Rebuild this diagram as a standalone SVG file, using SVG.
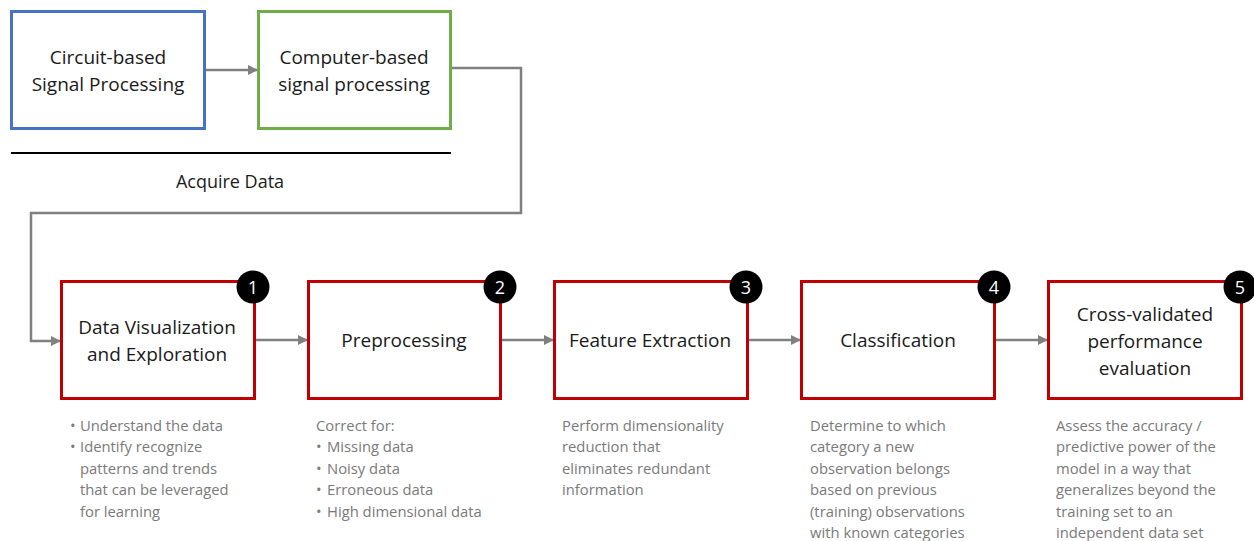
<svg xmlns="http://www.w3.org/2000/svg" width="1254" height="541" viewBox="0 0 1254 541">
  <defs>
    <marker id="arrow" viewBox="0 0 10 10" refX="9" refY="5" markerWidth="4" markerHeight="4" orient="auto" markerUnits="strokeWidth">
      <path d="M0,0 L10,5 L0,10 z" fill="#808080"/>
    </marker>
    <style>
      .box { fill: #ffffff; stroke-width: 3; }
      .blue { stroke: #4472c4; }
      .green { stroke: #70ad47; }
      .red { stroke: #c00000; }
      .title { font-family: "Open Sans", "Liberation Sans", sans-serif; font-size: 19px; fill: #1a1a1a; text-anchor: middle; }
      .desc { font-family: "Open Sans", "Liberation Sans", sans-serif; font-size: 14.8px; fill: #7a7a7a; }
      .badge { fill: #000000; }
      .num { font-family: "Open Sans", "Liberation Sans", sans-serif; font-size: 18px; fill: #ffffff; text-anchor: middle; }
      .conn { fill: none; stroke: #808080; stroke-width: 2.5; }
    </style>
  </defs>
  <rect width="1254" height="541" fill="#ffffff"/>

  <!-- connectors -->
  <g id="connectors">
    <line class="conn" x1="205" y1="70" x2="257" y2="70" marker-end="url(#arrow)"/>
    <polyline class="conn" points="451,68 521,68 521,213 31,213 31,341 60,341" marker-end="url(#arrow)"/>
    <line class="conn" x1="254" y1="340" x2="307" y2="340" marker-end="url(#arrow)"/>
    <line class="conn" x1="500" y1="340" x2="553" y2="340" marker-end="url(#arrow)"/>
    <line class="conn" x1="747" y1="340" x2="800" y2="340" marker-end="url(#arrow)"/>
    <line class="conn" x1="994" y1="340" x2="1047" y2="340" marker-end="url(#arrow)"/>
  </g>

  <!-- acquisition stage -->
  <g id="circuit">
    <rect class="box blue" x="11.5" y="11.5" width="193" height="117"/>
    <text class="title" x="108" y="64">Circuit-based</text>
    <text class="title" x="108" y="91">Signal Processing</text>
  </g>
  <g id="computer">
    <rect class="box green" x="258.5" y="11.5" width="192" height="117"/>
    <text class="title" x="354" y="64">Computer-based</text>
    <text class="title" x="354" y="91">signal processing</text>
  </g>
  <g id="acquire">
    <line x1="11" y1="153" x2="451" y2="153" stroke="#000000" stroke-width="2"/>
    <text class="title" x="230" y="188" style="font-size:18px">Acquire Data</text>
  </g>

  <!-- step 1 -->
  <g id="step1">
    <rect class="box red" x="61.5" y="281.5" width="193" height="117"/>
    <text class="title" x="157" y="334">Data Visualization</text>
    <text class="title" x="157" y="361">and Exploration</text>
    <circle class="badge" cx="253" cy="287" r="16.5"/>
    <text class="num" x="253" y="294">1</text>
    <text class="desc" x="70" y="431">•</text>
    <text class="desc" x="80" y="431">Understand the data</text>
    <text class="desc" x="70" y="452">•</text>
    <text class="desc" x="80" y="452">Identify recognize</text>
    <text class="desc" x="80" y="474">patterns and trends</text>
    <text class="desc" x="80" y="495">that can be leveraged</text>
    <text class="desc" x="80" y="517">for learning</text>
  </g>

  <!-- step 2 -->
  <g id="step2">
    <rect class="box red" x="308.5" y="281.5" width="192" height="117"/>
    <text class="title" x="404" y="347">Preprocessing</text>
    <circle class="badge" cx="500" cy="287" r="16.5"/>
    <text class="num" x="500" y="294">2</text>
    <text class="desc" x="316" y="431">Correct for:</text>
    <text class="desc" x="316" y="452">•</text>
    <text class="desc" x="327" y="452">Missing data</text>
    <text class="desc" x="316" y="474">•</text>
    <text class="desc" x="327" y="474">Noisy data</text>
    <text class="desc" x="316" y="495">•</text>
    <text class="desc" x="327" y="495">Erroneous data</text>
    <text class="desc" x="316" y="517">•</text>
    <text class="desc" x="327" y="517">High dimensional data</text>
  </g>

  <!-- step 3 -->
  <g id="step3">
    <rect class="box red" x="554.5" y="281.5" width="193" height="117"/>
    <text class="title" x="650" y="347">Feature Extraction</text>
    <circle class="badge" cx="746" cy="287" r="16.5"/>
    <text class="num" x="746" y="294">3</text>
    <text class="desc" x="562" y="431">Perform dimensionality</text>
    <text class="desc" x="562" y="452">reduction that</text>
    <text class="desc" x="562" y="474">eliminates redundant</text>
    <text class="desc" x="562" y="495">information</text>
  </g>

  <!-- step 4 -->
  <g id="step4">
    <rect class="box red" x="801.5" y="281.5" width="193" height="117"/>
    <text class="title" x="898" y="347">Classification</text>
    <circle class="badge" cx="994" cy="287" r="16.5"/>
    <text class="num" x="994" y="294">4</text>
    <text class="desc" x="810" y="431">Determine to which</text>
    <text class="desc" x="810" y="452">category a new</text>
    <text class="desc" x="810" y="474">observation belongs</text>
    <text class="desc" x="810" y="495">based on previous</text>
    <text class="desc" x="810" y="517">(training) observations</text>
    <text class="desc" x="810" y="538">with known categories</text>
  </g>

  <!-- step 5 -->
  <g id="step5">
    <rect class="box red" x="1048.5" y="281.5" width="193" height="117"/>
    <text class="title" x="1145" y="321">Cross-validated</text>
    <text class="title" x="1145" y="348">performance</text>
    <text class="title" x="1145" y="375">evaluation</text>
    <circle class="badge" cx="1240" cy="287" r="16.5"/>
    <text class="num" x="1240" y="294">5</text>
    <text class="desc" x="1056" y="431">Assess the accuracy /</text>
    <text class="desc" x="1056" y="452">predictive power of the</text>
    <text class="desc" x="1056" y="474">model in a way that</text>
    <text class="desc" x="1056" y="495">generalizes beyond the</text>
    <text class="desc" x="1056" y="517">training set to an</text>
    <text class="desc" x="1056" y="538">independent  data set</text>
  </g>
</svg>
